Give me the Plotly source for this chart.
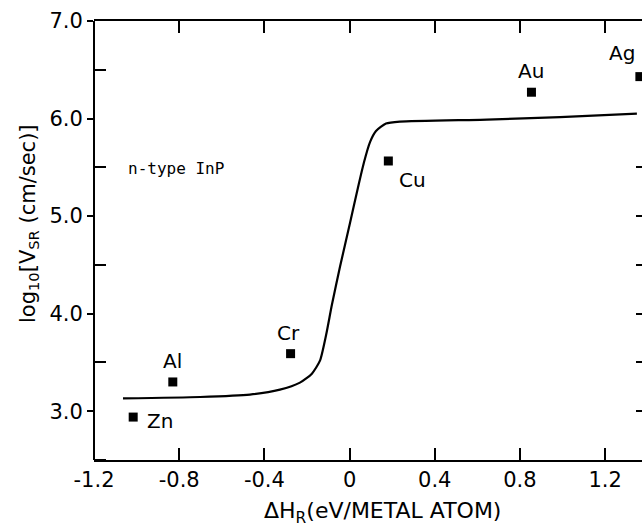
import plotly.graph_objects as go

# Metal overlayers on n-type InP: heat of reaction vs. surface recombination velocity
metals = ["Zn", "Al", "Cr", "Cu", "Au", "Ag"]
heat_of_reaction = [-1.016, -0.83, -0.277, 0.182, 0.854, 1.363]
log_vsr = [2.94, 3.30, 3.59, 5.565, 6.27, 6.43]

# label offsets (pixels) relative to each marker
label_dx = [27, 0, -2, 24, 0, -18]
label_dy = [-4, 21, 21, -19, 21, 24]

# guide curve drawn through the data trend
curve_x = [-1.064, -0.702, -0.468, -0.327, -0.233, -0.177, -0.139, -0.110, -0.083,
           -0.045, 0.002, 0.039, 0.068, 0.096, 0.124, 0.171, 0.237, 0.645, 0.988, 1.349]
curve_y = [3.132, 3.146, 3.170, 3.221, 3.293, 3.385, 3.518, 3.784, 4.091,
           4.480, 4.930, 5.289, 5.555, 5.759, 5.872, 5.949, 5.969, 5.990, 6.015, 6.051]

x_ticks = [-1.2, -0.8, -0.4, 0, 0.4, 0.8, 1.2]
x_ticktext = ["-1.2", "-0.8", "-0.4", "0", "0.4", "0.8", "1.2"]
y_ticks = [3.0, 4.0, 5.0, 6.0, 7.0]
y_ticktext = ["3.0", "4.0", "5.0", "6.0", "7.0"]
y_minor = [2.5, 3.5, 4.5, 5.5, 6.5]
y_right_ticks = [3.0, 3.5, 4.0, 4.5, 5.0, 5.5]

X_RANGE = [-1.2, 1.373]
Y_RANGE = [2.5, 7.0]
FONT = "DejaVu Sans"

fig = go.Figure()
fig.add_trace(go.Scatter(x=curve_x, y=curve_y, mode="lines",
                         line=dict(color="black", width=2.2, shape="spline", smoothing=0.6),
                         hoverinfo="skip", showlegend=False))
fig.add_trace(go.Scatter(x=heat_of_reaction, y=log_vsr, mode="markers",
                         marker=dict(symbol="square", size=9, color="black"),
                         showlegend=False))
# empty trace so the right-hand tick axis is rendered
fig.add_trace(go.Scatter(x=[None], y=[None], yaxis="y2", showlegend=False))

for name, xv, yv, dx, dy in zip(metals, heat_of_reaction, log_vsr, label_dx, label_dy):
    fig.add_annotation(x=xv, y=yv, text=name, showarrow=False, xshift=dx, yshift=dy,
                       xanchor="center", yanchor="middle",
                       font=dict(family=FONT, size=20, color="black"))

fig.add_annotation(xref="paper", yref="paper", x=(176 - 94) / 548, y=(460 - 168) / 439,
                   text="n-type InP", showarrow=False, xanchor="center", yanchor="middle",
                   font=dict(family="DejaVu Sans Mono", size=16, color="black"))

# axis titles
fig.add_annotation(xref="paper", yref="paper", x=(382 - 94) / 548, y=(460 - 512) / 439,
                   text="ΔH<sub>R</sub>(eV/METAL ATOM)", showarrow=False,
                   xanchor="center", yanchor="middle",
                   font=dict(family=FONT, size=22, color="black"))
fig.add_annotation(xref="paper", yref="paper", x=(29 - 94) / 548, y=(460 - 224) / 439,
                   text="log<sub>10</sub>[V<sub>SR</sub> (cm/sec)]", showarrow=False,
                   xanchor="center", yanchor="middle",
                   textangle=-90, font=dict(family=FONT, size=21, color="black"))

# left axis line
fig.add_shape(type="line", xref="paper", yref="paper", x0=0, x1=0, y0=0, y1=1,
              line=dict(color="black", width=2))

fig.update_layout(
    width=642, height=527,
    margin=dict(l=94, r=0, t=21, b=67),
    paper_bgcolor="white", plot_bgcolor="white",
    xaxis=dict(range=X_RANGE, tickvals=x_ticks, ticktext=x_ticktext,
               ticks="inside", ticklen=12, tickwidth=1.5, tickcolor="black",
               showline=True, linecolor="black", linewidth=2, mirror="ticks",
               showgrid=False, zeroline=False,
               tickfont=dict(family=FONT, size=21, color="black")),
    yaxis=dict(range=Y_RANGE, tickvals=y_ticks, ticktext=y_ticktext,
               ticks="outside", ticklen=6, tickwidth=1.5, tickcolor="black",
               minor=dict(tickvals=y_minor, ticks="inside", ticklen=12,
                          tickwidth=1.5, tickcolor="black", showgrid=False),
               showline=False, showgrid=False, zeroline=False,
               tickfont=dict(family=FONT, size=21, color="black")),
    yaxis2=dict(range=Y_RANGE, overlaying="y", side="right", anchor="x",
                tickvals=y_right_ticks, ticks="inside", ticklen=6, tickwidth=1.5,
                tickcolor="black", showticklabels=False, showline=False,
                showgrid=False, zeroline=False),
)

fig.write_html("out.html")
